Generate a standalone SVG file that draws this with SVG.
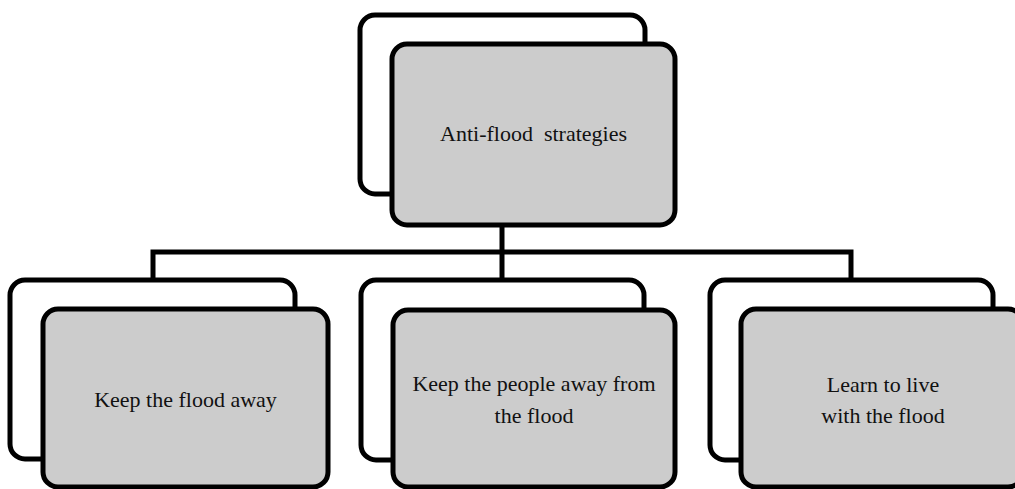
<svg xmlns="http://www.w3.org/2000/svg" width="1015" height="489" viewBox="0 0 1015 489">
<style>
.back{fill:#ffffff;stroke:#000;stroke-width:5}
.front{fill:#cccccc;stroke:#000;stroke-width:5}
.conn{fill:none;stroke:#000;stroke-width:5;stroke-linejoin:miter}
.lbl{font-family:"Liberation Serif","Times New Roman",serif;font-size:22px;fill:#111;text-anchor:middle;white-space:pre}
</style>
<rect width="1015" height="489" fill="#fff"/>
<g id="connectors">
<path class="conn" d="M502 225 V252 M153 280 V252 H851 V280 M502 252 V280"/>
</g>
<g id="node-root">
<rect class="back" x="360" y="15" width="285" height="179" rx="15"/>
<rect class="front" x="392" y="44" width="283" height="181" rx="15"/>
<text class="lbl" x="533.5" y="141" xml:space="preserve">Anti-flood  strategies</text>
</g>
<g id="node-keep-flood-away">
<rect class="back" x="10" y="280" width="285" height="179" rx="15"/>
<rect class="front" x="43" y="309" width="285" height="178" rx="15"/>
<text class="lbl" x="185.5" y="407">Keep the flood away</text>
</g>
<g id="node-keep-people-away">
<rect class="back" x="361" y="280" width="283" height="180" rx="15"/>
<rect class="front" x="393" y="310" width="282" height="177" rx="15"/>
<text class="lbl" x="534" y="391">Keep the people away from</text>
<text class="lbl" x="534" y="423">the flood</text>
</g>
<g id="node-learn-to-live">
<rect class="back" x="710" y="280" width="283" height="180" rx="15"/>
<rect class="front" x="741" y="309" width="282" height="178" rx="15"/>
<text class="lbl" x="883" y="392">Learn to live</text>
<text class="lbl" x="883" y="423">with the flood</text>
</g>
</svg>
